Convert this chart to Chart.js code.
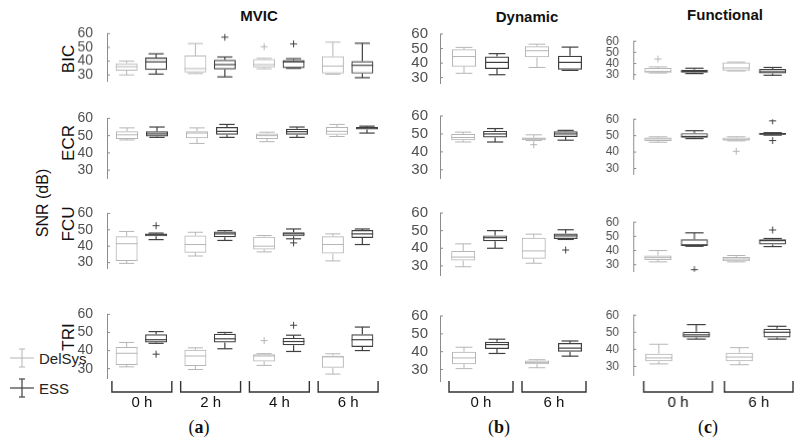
<!DOCTYPE html>
<html>
<head>
<meta charset="utf-8">
<script src="https://cdn.jsdelivr.net/npm/chart.js@4.4.0/dist/chart.umd.min.js"></script>
<style>
  body { margin: 0; background: #fff; }
  #page { position: relative; width: 799px; height: 441px; overflow: hidden; font-family: "Liberation Sans", Arial, sans-serif; }
  #page canvas { position: absolute; }
  .txt { position: absolute; white-space: nowrap; transform: translate(-50%, -50%); color: #111; }
  .title { font-weight: bold; font-size: 15px; }
  .rowlab { font-size: 17px; transform: translate(-50%, -50%) rotate(-90deg); }
  .sub { font-family: "Liberation Serif", "DejaVu Serif", serif; font-size: 18px; }
  .leg { position: absolute; font-size: 15px; color: #222; transform: translateY(-50%); }
</style>
</head>
<body>
<div id="page">
  <div class="txt title" style="left:259px; top:15px">MVIC</div>
  <div class="txt title" style="left:527px; top:16px">Dynamic</div>
  <div class="txt title" style="left:725px; top:14px">Functional</div>

  <div class="txt rowlab" style="left:69px; top:59px">BIC</div>
  <div class="txt rowlab" style="left:69px; top:143px">ECR</div>
  <div class="txt rowlab" style="left:69px; top:224px">FCU</div>
  <div class="txt rowlab" style="left:69px; top:337px">TRI</div>
  <div class="txt rowlab" style="left:43px; top:203px; font-size:16px">SNR (dB)</div>

  <svg style="position:absolute; left:8px; top:345px" width="30" height="60">
    <g stroke="#b5b5b5" stroke-width="1"><line x1="14" y1="4" x2="14" y2="22"/><line x1="11" y1="4" x2="17" y2="4"/><line x1="11" y1="22" x2="17" y2="22"/><line x1="2" y1="13" x2="26" y2="13"/></g>
    <g stroke="#404040" stroke-width="1.2"><line x1="14" y1="34" x2="14" y2="52"/><line x1="11" y1="34" x2="17" y2="34"/><line x1="11" y1="52" x2="17" y2="52"/><line x1="2" y1="43" x2="26" y2="43"/></g>
  </svg>
  <div class="leg" style="left:39px; top:358px">DelSys</div>
  <div class="leg" style="left:39px; top:388px">ESS</div>

  <div class="txt sub" style="left:199px; top:427px">(<b>a</b>)</div>
  <div class="txt sub" style="left:499px; top:427px">(<b>b</b>)</div>
  <div class="txt sub" style="left:708px; top:427px">(<b>c</b>)</div>
</div>

<script>
// categories
const muscles = ['BIC', 'ECR', 'FCU', 'TRI'];
const mvicTimes = ['0 h', '2 h', '4 h', '6 h'];
const taskTimes = ['0 h', '6 h'];
const yTicks = [30, 40, 50, 60];

// one row per time point: [low whisker, Q1, median, Q3, high whisker, ...outliers]
// outer index = muscle (BIC, ECR, FCU, TRI)
const mvicDelSys = [
  [[30, 33, 36, 38.5, 40], [31, 31.8, 34.6, 44.2, 52.8], [34.5, 35.5, 37.5, 41.5, 42, 50.5], [30.5, 31, 36.4, 43.6, 53.8]],
  [[47.5, 48, 50.5, 52.5, 54.5], [45.5, 48.5, 51.5, 52.5, 54.5], [46.5, 48, 50, 51.3, 52], [49.5, 50.5, 52.5, 55, 56.5]],
  [[29.5, 31, 41.5, 46, 49], [34, 36, 41, 46.5, 48.5], [36.5, 38, 40, 45.8, 46.5], [31, 35.5, 41, 46, 47.5]],
  [[31, 32, 38.5, 42, 44.5], [29.5, 31.5, 37, 40.5, 41.5], [31.8, 34, 37, 38, 38.3, 45.5], [27, 30.5, 36.5, 37.2, 38.2]]
];
const mvicESS = [
  [[30.6, 33.6, 39.5, 42.6, 45.3], [28.6, 34, 37.5, 41, 43, 57.4], [34.8, 35, 39.5, 40.8, 41.8, 52.5], [28, 31, 37, 40, 53]],
  [[49, 49.5, 51, 52.5, 55], [49, 50.5, 52.5, 55, 56.5], [49, 50.5, 52.3, 54, 55], [51.5, 53.5, 54.5, 55, 55.5]],
  [[44, 46, 47, 47.8, 48, 52.5], [43.5, 45.5, 47.5, 49, 49.5], [44.5, 46, 47.5, 48.5, 50.5, 42], [41, 45, 47.5, 49.8, 50.5]],
  [[44, 44.5, 46, 49, 50.5, 38], [41, 44.5, 46.5, 49.3, 50], [39.5, 43, 45, 47, 48.5, 54], [40, 42, 46, 49, 53]]
];
const dynDelSys = [
  [[33, 37.5, 44.5, 49.5, 50.8], [37, 44, 48.5, 51.5, 53]],
  [[45.5, 46.5, 48, 50, 51], [46.3, 46.5, 47.3, 48, 49.5, 44]],
  [[29.5, 33, 35, 38.5, 42.5], [31.5, 34, 38.5, 46, 48]],
  [[30.5, 33, 36.5, 40, 42.5], [31, 33, 34, 35, 35.5]]
];
const dynESS = [
  [[32, 36, 40.5, 44.5, 46.5], [35, 35.5, 40.5, 45, 51]],
  [[45.5, 48, 50, 51.7, 53], [46.5, 48.3, 50, 51.5, 52]],
  [[40, 44, 46, 47.3, 50], [45, 45.3, 47, 48.3, 50.5, 39]],
  [[39, 41.5, 44, 45.5, 47], [37.5, 40, 42, 44.8, 46]]
];
const funcDelSys = [
  [[31.5, 31.8, 33, 36, 37, 44], [33.3, 33.5, 36, 41, 41.3]],
  [[46, 46.8, 48, 48.8, 49.3], [46.8, 47, 47.5, 48.8, 49.3, 40.5]],
  [[32, 33.3, 35, 36.5, 40], [32, 32.5, 34, 35.5, 36.5]],
  [[31.5, 33, 35, 37.5, 43], [31, 33, 35.5, 38, 41]]
];
const funcESS = [
  [[31, 31.8, 33, 34.5, 35.8], [29.5, 31, 32.5, 35, 36.5]],
  [[48.2, 48.7, 49.5, 51.5, 53], [50.3, 50.5, 51, 51.6, 51.8, 59, 47]],
  [[43, 43.2, 44, 48, 52.5, 26.5], [42.8, 44.3, 47, 48, 48.5, 54.5]],
  [[46, 47, 48.5, 50.3, 54.5], [46, 47, 50, 52, 53.5]]
];

const DELSYS_COLOR = '#b5b5b5';
const ESS_COLOR = '#404040';
const PX = 10;        // pixels per x unit
const LABEL_W = 40;   // room left of the y axis for tick labels

// panel layout: y rows are [pixel of 60, pixel of 30, pixel of axis bottom]
const panels = [
  { delsys: mvicDelSys, ess: mvicESS, times: mvicTimes, axisX: 107, xmin: -2, xmax: 26,
    groupStep: 7, pairStep: 3, boxW: 2.2, font: 14, pad: 6,
    rows: [[29.3, 78.3, 86], [114, 173.3, 183], [209, 266, 273], [310, 368, 378]] },
  { delsys: dynDelSys, ess: dynESS, times: taskTimes, axisX: 440, xmin: -2.4, xmax: 12.6,
    groupStep: 7.3, pairStep: 3.3, boxW: 2.4, font: 15, pad: 4,
    rows: [[31, 80, 86], [113, 172, 181], [210, 268, 278], [313, 369, 381]] },
  { delsys: funcDelSys, ess: funcESS, times: taskTimes, axisX: 633, xmin: -2.55, xmax: 14,
    groupStep: 8.05, pairStep: 3.75, boxW: 2.7, font: 12, pad: 6,
    rows: [[37.5, 77, 83], [116, 171, 178], [219, 267, 275], [312, 366, 375]] }
];

const page = document.getElementById('page');

function makePanel(p, m) {
  const [y60, y30, yb] = p.rows[m];
  const perDb = (y30 - y60) / 30;
  const ymin = 30 - (yb - y30) / perDb;
  const last = m === muscles.length - 1;
  const top = y60 - 10;
  const padBottom = last ? 415 - yb : 10;
  const width = LABEL_W + (p.xmax - p.xmin) * PX;
  const height = (yb - top) + padBottom;

  const cv = document.createElement('canvas');
  cv.width = width; cv.height = height;
  cv.style.left = (p.axisX - LABEL_W) + 'px';
  cv.style.top = top + 'px';
  cv.style.width = width + 'px'; cv.style.height = height + 'px';
  page.appendChild(cv);

  const pos = (g, s) => g * p.groupStep + s * p.pairStep;
  const series = [
    { rows: p.delsys[m], s: 0, color: DELSYS_COLOR, lw: 1 },
    { rows: p.ess[m], s: 1, color: ESS_COLOR, lw: 1.2 }
  ];

  const datasets = [];
  series.forEach(se => {
    datasets.push({
      type: 'bar',
      data: se.rows.map((r, g) => ({ x: pos(g, se.s), y: [r[1], r[3]] })),
      backgroundColor: 'rgba(255,255,255,0)',
      borderColor: se.color,
      borderWidth: se.lw,
      borderSkipped: false,
      inflateAmount: 0,
      barThickness: p.boxW * PX,
      grouped: false
    });
  });
  series.forEach(se => {
    const pts = [];
    se.rows.forEach((r, g) => r.slice(5).forEach(v => pts.push({ x: pos(g, se.s), y: v })));
    datasets.push({
      type: 'scatter',
      data: pts,
      pointStyle: 'cross',
      pointRadius: 3.5,
      borderColor: se.color,
      borderWidth: 1
    });
  });

  // whiskers, caps and medians
  const boxExtras = {
    id: 'boxExtras',
    afterDatasetsDraw(chart) {
      const { ctx, scales: { x, y } } = chart;
      const half = (x.getPixelForValue(p.boxW / 2) - x.getPixelForValue(0));
      const cap = half * 0.7;
      const seg = (x1, y1, x2, y2) => { ctx.beginPath(); ctx.moveTo(x1, y1); ctx.lineTo(x2, y2); ctx.stroke(); };
      series.forEach(se => {
        ctx.save();
        ctx.strokeStyle = se.color;
        ctx.lineWidth = se.lw;
        se.rows.forEach((r, g) => {
          const cx = x.getPixelForValue(pos(g, se.s));
          seg(cx, y.getPixelForValue(r[0]), cx, y.getPixelForValue(r[1]));
          seg(cx, y.getPixelForValue(r[3]), cx, y.getPixelForValue(r[4]));
          seg(cx - cap, y.getPixelForValue(r[0]), cx + cap, y.getPixelForValue(r[0]));
          seg(cx - cap, y.getPixelForValue(r[4]), cx + cap, y.getPixelForValue(r[4]));
          seg(cx - half, y.getPixelForValue(r[2]), cx + half, y.getPixelForValue(r[2]));
        });
        ctx.restore();
      });
      // small inward tick marks
      ctx.save();
      ctx.strokeStyle = '#8c8c8c';
      ctx.lineWidth = 1;
      yTicks.forEach(t => {
        const ty = y.getPixelForValue(t);
        seg(chart.chartArea.left, ty, chart.chartArea.left + 3, ty);
      });
      ctx.restore();
    }
  };

  // time group brackets under the bottom row
  const brackets = {
    id: 'brackets',
    afterDraw(chart) {
      if (!last) return;
      const { ctx, scales: { x } } = chart;
      const yTop = 381 - top, yBot = 392 - top;
      ctx.save();
      ctx.strokeStyle = '#333';
      ctx.lineWidth = 1.4;
      ctx.fillStyle = '#111';
      ctx.font = '15px "Liberation Sans", Arial, sans-serif';
      ctx.textAlign = 'center';
      ctx.textBaseline = 'middle';
      p.times.forEach((t, g) => {
        const l = x.getPixelForValue(pos(g, 0) - 1.5);
        const r = x.getPixelForValue(pos(g, 1) + 1.6);
        ctx.beginPath();
        ctx.moveTo(l, yTop); ctx.lineTo(l, yBot); ctx.lineTo(r, yBot); ctx.lineTo(r, yTop);
        ctx.stroke();
        ctx.fillText(t, (l + r) / 2, 403 - top);
      });
      ctx.restore();
    }
  };

  new Chart(cv, {
    data: { datasets },
    options: {
      responsive: false,
      animation: false,
      events: [],
      layout: { padding: { top: 10, bottom: padBottom, left: 0, right: 0 } },
      plugins: { legend: { display: false }, tooltip: { enabled: false } },
      scales: {
        x: { type: 'linear', display: false, min: p.xmin, max: p.xmax, offset: false },
        y: {
          type: 'linear', min: ymin, max: 60,
          afterBuildTicks: (scale) => { scale.ticks = yTicks.map(v => ({ value: v })); },
          afterFit: (scale) => { scale.width = LABEL_W; },
          grid: { display: false },
          border: { display: true, color: '#8c8c8c', width: 1 },
          ticks: { autoSkip: false, color: '#505050', padding: p.pad, font: { size: p.font, family: '"Liberation Sans", Arial, sans-serif' } }
        }
      }
    },
    plugins: [boxExtras, brackets]
  });
}

panels.forEach(p => muscles.forEach((name, m) => makePanel(p, m)));
</script>
</body>
</html>
